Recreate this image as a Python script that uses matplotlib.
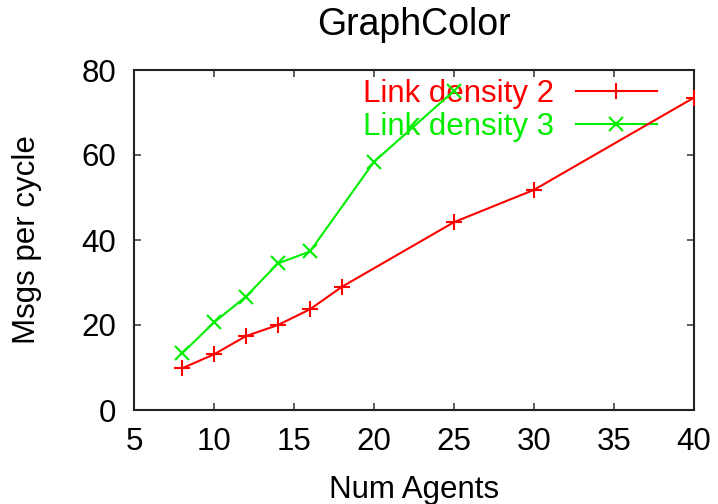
import matplotlib
matplotlib.use("Agg")
import matplotlib.pyplot as plt

plt.rcParams['font.family'] = ['Liberation Sans', 'DejaVu Sans']
plt.rcParams['font.size'] = 22.5

# data
agents_d2 = [8, 10, 12, 14, 16, 18, 25, 30, 40]
msgs_d2 = [9.8, 13.1, 17.4, 20.0, 23.7, 29.0, 44.2, 51.8, 73.5]
agents_d3 = [8, 10, 12, 14, 16, 20, 25]
msgs_d3 = [13.3, 20.6, 26.7, 34.5, 37.3, 58.4, 75.1]

xticks = [5, 10, 15, 20, 25, 30, 35, 40]
yticks = [0, 20, 40, 60, 80]

fig = plt.figure(figsize=(7.18, 5.04), dpi=100)
ax = fig.add_axes([134 / 718, 1 - 410 / 504, 560 / 718, 340 / 504])

ax.plot(agents_d2, msgs_d2, color='#ff0000', lw=1.5, marker='+', ms=11, mew=1.5,
        label='Link density 2', zorder=3)
ax.plot(agents_d3, msgs_d3, color='#00ee00', lw=1.5, marker='x', ms=9.5, mew=1.5,
        label='Link density 3', zorder=3)

ax.set_xlim(5, 40)
ax.set_ylim(0, 80)
ax.set_xticks(xticks)
ax.set_yticks(yticks)
ax.tick_params(direction='in', length=5, width=1.2, top=True, right=True,
               color='#444444')
ax.tick_params(axis='x', pad=12.5)
ax.tick_params(axis='y', pad=13)
for s in ax.spines.values():
    s.set_linewidth(1.5)
    s.set_color('#222222')

ax.set_title('GraphColor', pad=25.5)
ax.set_xlabel('Num Agents')
ax.set_ylabel('Msgs per cycle')
ax.xaxis.set_label_coords(0.5, -0.19)
ax.yaxis.set_label_coords(-0.165, 0.5)

leg = ax.legend(loc='upper right', bbox_to_anchor=(0.934, 0.973), frameon=False,
                markerfirst=False, labelcolor='linecolor', handlelength=2.6,
                handletextpad=0.7, labelspacing=0.08, borderpad=0, borderaxespad=0)
leg.set_zorder(1)

fig.savefig('out.png', dpi=100)
